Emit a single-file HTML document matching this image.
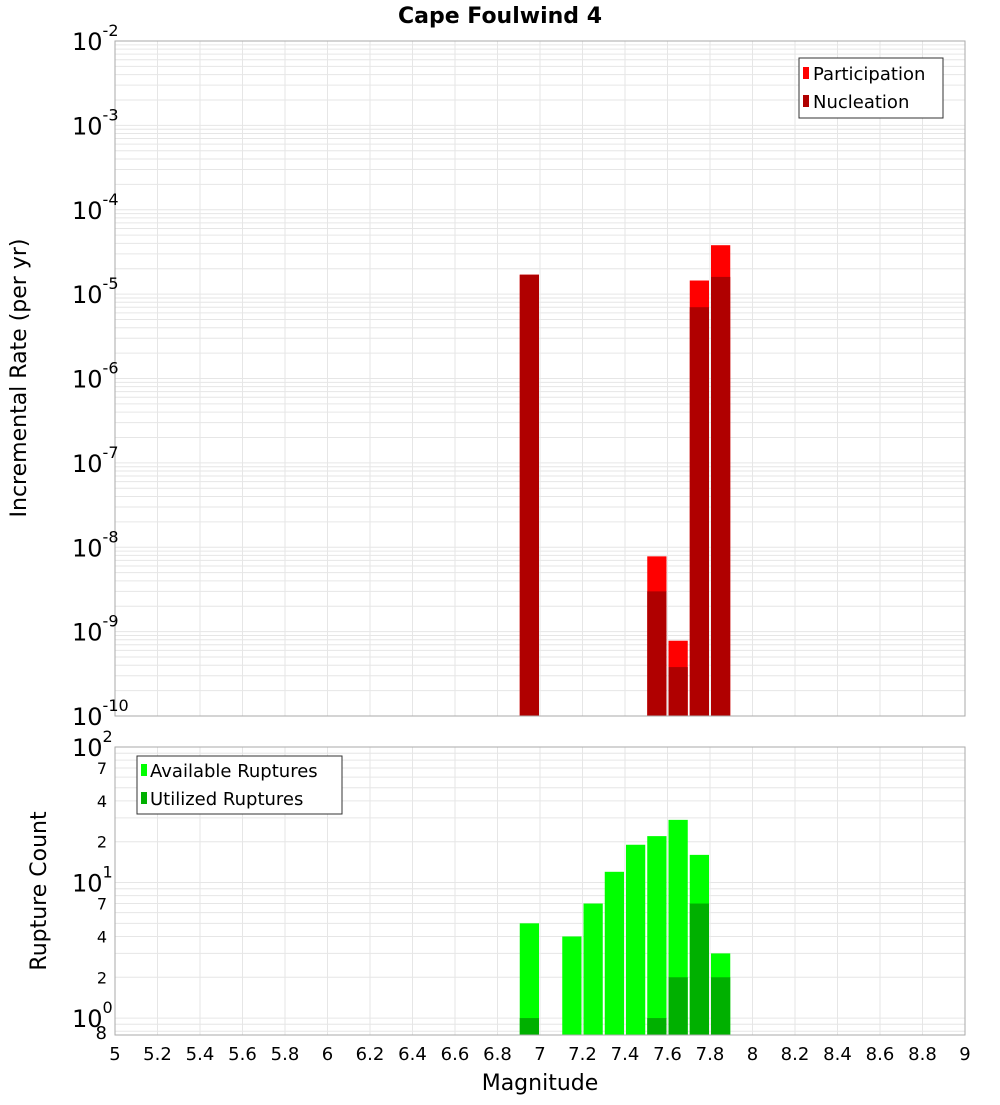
<!DOCTYPE html>
<html><head><meta charset="utf-8"><style>
body{margin:0;background:#fff;width:1000px;height:1100px;overflow:hidden}
svg{font-family:"DejaVu Sans","Liberation Sans",sans-serif}
</style></head><body>
<svg id="c" width="1000" height="1100"></svg>
<script>
const mags=[6.95,7.15,7.25,7.35,7.45,7.55,7.65,7.75,7.85];
const participation=[1.7e-5,0,0,0,0,7.8e-9,7.8e-10,1.45e-5,3.8e-5];
const nucleation=[1.7e-5,0,0,0,0,3.0e-9,3.8e-10,7.0e-6,1.6e-5];
const available=[5,4,7,12,19,22,29,16,3];
const utilized=[1,0,0,0,0,1,2,7,2];
const xTicks=[5,5.2,5.4,5.6,5.8,6,6.2,6.4,6.6,6.8,7,7.2,7.4,7.6,7.8,8,8.2,8.4,8.6,8.8,9];
const topExps=[-2,-3,-4,-5,-6,-7,-8,-9,-10];
const botMinor=[7,4,2];

const NS="http://www.w3.org/2000/svg",svg=document.getElementById('c');
function el(t,a,txt){const e=document.createElementNS(NS,t);for(const k in a)e.setAttribute(k,a[k]);if(txt!==undefined)e.textContent=txt;svg.appendChild(e);return e;}
const X0=115,X1=965;
const xs=m=>X0+(m-5)/4*(X1-X0);
const T0=41,T1=716;
const yt=v=>T0+(-2-Math.log10(v))/8*(T1-T0);
const B0=747,B1=1035,bmin=0.75;
const yb=v=>B0+(Math.log10(100/v))/Math.log10(100/bmin)*(B1-B0);
const bw=xs(5.1)-xs(5)-2;

// grid top
for(let e=-10;e<-2;e++)for(let k=1;k<10;k++){const y=yt(k*Math.pow(10,e));let g=el('line',{x1:X0,x2:X1,y1:y,y2:y,stroke:'#e6e6e6','stroke-width':1});}
// grid bottom
for(let e=-1;e<2;e++)for(let k=1;k<10;k++){const v=k*Math.pow(10,e);if(v<bmin)continue;const y=yb(v);let g=el('line',{x1:X0,x2:X1,y1:y,y2:y,stroke:'#e6e6e6','stroke-width':1});}
xTicks.forEach(m=>{const x=xs(m);[[T0,T1],[B0,B1]].forEach(([a,b])=>{let g=el('line',{x1:x,x2:x,y1:a,y2:b,stroke:'#e6e6e6','stroke-width':1});});});

// top bars
mags.forEach((m,i)=>{const x=xs(m)-bw/2;
 if(participation[i]>0){let r=el('rect',{x:x,y:yt(participation[i]),width:bw,height:T1-yt(participation[i]),fill:'#ff0000'});}
 if(nucleation[i]>0){let r=el('rect',{x:x,y:yt(nucleation[i]),width:bw,height:T1-yt(nucleation[i]),fill:'#b00000'});}
 if(available[i]>0){let r=el('rect',{x:x,y:yb(available[i]),width:bw,height:B1-yb(available[i]),fill:'#00ff00'});}
 if(utilized[i]>0){let r=el('rect',{x:x,y:yb(utilized[i]),width:bw,height:B1-yb(utilized[i]),fill:'#00b000'});}
});
// frames
let f1=el('rect',{x:X0,y:T0,width:X1-X0,height:T1-T0,fill:'none',stroke:'#aaa'});
let f2=el('rect',{x:X0,y:B0,width:X1-X0,height:B1-B0,fill:'none',stroke:'#aaa'});

// top y labels
topExps.forEach(e=>{const y=yt(Math.pow(10,e));const t=el('text',{x:72,y:y+9,'font-size':24});
 const s1=document.createElementNS(NS,'tspan');s1.textContent='10';t.appendChild(s1);const s2=document.createElementNS(NS,'tspan');s2.setAttribute('dy',-14);s2.setAttribute('font-size',16);s2.textContent=String(e);t.appendChild(s2);});
// bottom y labels
[[100,'2'],[10,'1'],[1,'0']].forEach(([v,e])=>{const y=yb(v);const t=el('text',{x:72,y:y+9,'font-size':24});
 const s1=document.createElementNS(NS,'tspan');s1.textContent='10';t.appendChild(s1);const s2=document.createElementNS(NS,'tspan');s2.setAttribute('dy',-14);s2.setAttribute('font-size',16);s2.textContent=e;t.appendChild(s2);});
[1,0.1].forEach(d=>botMinor.forEach(k=>{const v=k*d*10;if(v>=100||v<bmin)return;const t=el('text',{x:107,y:yb(v)+6,'font-size':16,'text-anchor':'end'},String(k));}));
{const t=el('text',{x:107,y:yb(0.8)+8,'font-size':18,'text-anchor':'end'},'8');}
// x labels
xTicks.forEach(m=>{const t=el('text',{x:xs(m),y:1060,'font-size':18,'text-anchor':'middle'},String(m));});
</script>
<svg style="position:absolute;left:0;top:0" width="1000" height="1100">
<text x="500" y="23" font-size="22" font-weight="bold" text-anchor="middle" font-family="DejaVu Sans,Liberation Sans,sans-serif">Cape Foulwind 4</text>
<text x="540" y="1090" font-size="22" text-anchor="middle" font-family="DejaVu Sans,Liberation Sans,sans-serif">Magnitude</text>
<text transform="translate(26,378) rotate(-90)" font-size="22" text-anchor="middle" font-family="DejaVu Sans,Liberation Sans,sans-serif">Incremental Rate (per yr)</text>
<text transform="translate(46,891) rotate(-90)" font-size="22" text-anchor="middle" font-family="DejaVu Sans,Liberation Sans,sans-serif">Rupture Count</text>
<g font-family="DejaVu Sans,Liberation Sans,sans-serif" font-size="18">
<rect x="799" y="58" width="144" height="60" fill="#fff" stroke="#333"/>
<rect x="803" y="67" width="6" height="12" fill="#ff0000"/><text x="813" y="80">Participation</text>
<rect x="803" y="95" width="6" height="12" fill="#b00000"/><text x="813" y="108">Nucleation</text>
</g>
<g font-family="DejaVu Sans,Liberation Sans,sans-serif" font-size="18">
<rect x="137" y="756" width="205" height="58" fill="#fff" stroke="#333"/>
<rect x="141" y="764" width="6" height="12" fill="#00ff00"/><text x="150" y="777">Available Ruptures</text>
<rect x="141" y="792" width="6" height="12" fill="#00b000"/><text x="150" y="805">Utilized Ruptures</text>
</g>
</svg>
</body></html>
